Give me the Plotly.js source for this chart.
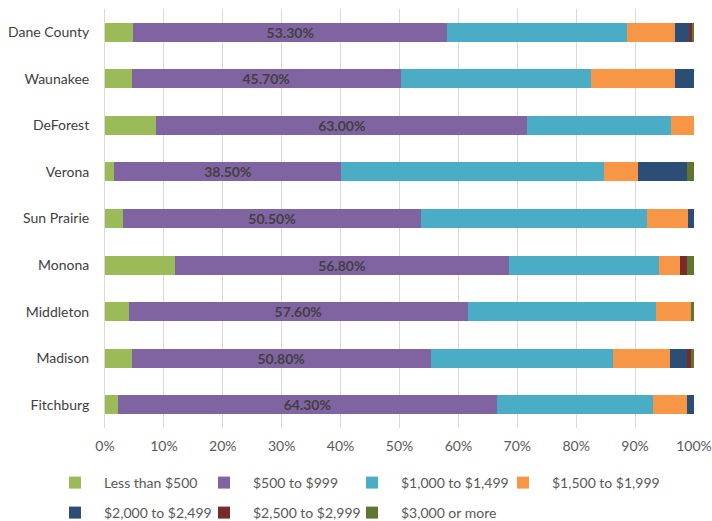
<!DOCTYPE html>
<html><head><meta charset="utf-8">
<script src="https://cdn.plot.ly/plotly-3.0.1.min.js"></script>
<style>body{margin:0;background:#fff}#chart{width:712px;height:521px}</style>
</head><body><div id="chart"></div>
<script>
const categories = ["Dane County","Waunakee","DeForest","Verona","Sun Prairie","Monona","Middleton","Madison","Fitchburg"];
const seriesNames = ["Less than $500","$500 to $999","$1,000 to $1,499","$1,500 to $1,999","$2,000 to $2,499","$2,500 to $2,999","$3,000 or more"];
const lessThan500   = [4.8, 4.5, 8.7, 1.6, 3.1, 11.8, 4.0, 4.5, 2.2];
const s500to999     = [53.3, 45.7, 63.0, 38.5, 50.5, 56.8, 57.6, 50.8, 64.3];
const s1000to1499   = [30.5, 32.3, 24.4, 44.6, 38.5, 25.5, 31.9, 30.9, 26.5];
const s1500to1999   = [8.2, 14.3, 3.9, 5.8, 6.9, 3.6, 6.0, 9.7, 5.8];
const s2000to2499   = [2.4, 3.2, 0, 8.3, 1.0, 0, 0, 2.9, 1.2];
const s2500to2999   = [0.5, 0, 0, 0, 0, 1.1, 0, 0.7, 0];
const s3000plus     = [0.3, 0, 0, 1.2, 0, 1.2, 0.5, 0.5, 0];
const seriesValues = [lessThan500, s500to999, s1000to1499, s1500to1999, s2000to2499, s2500to2999, s3000plus];
const colors = ["#9BBB59","#8064A2","#4BACC6","#F79646","#2C4D75","#772C2A","#5F7530"];

// legend placement (pixels in the 712x521 page): left edge of each legend entry and its row
const legendLeft = [46, 195, 343, 494, 46, 195, 343];
const legendRowTop = [467, 467, 467, 467, 497, 497, 497];

const FONT = 'Lato, "Open Sans", sans-serif';
const W = 712, H = 521;
const legendKey = i => i === 0 ? 'legend' : 'legend' + (i + 1);

const traces = seriesValues.map((vals, i) => {
  const t = {
    type: 'bar', orientation: 'h', name: seriesNames[i],
    y: categories, x: vals,
    marker: {color: colors[i], line: {width: 0}},
    legend: legendKey(i),
    hoverinfo: 'skip'
  };
  if (i === 1) {
    t.texttemplate = '%{x:.2f}%';
    t.textposition = 'inside';
    t.insidetextanchor = 'middle';
    t.textangle = 0;
    t.constraintext = 'none';
    t.textfont = {family: FONT, size: 14, color: '#404040', weight: 'bold'};
  } else {
    t.textposition = 'none';
  }
  return t;
});

const layout = {
  width: W, height: H,
  margin: {l: 105, r: 18, t: 9, b: 93},
  barmode: 'stack', bargap: 0.59,
  paper_bgcolor: '#fff', plot_bgcolor: '#fff',
  font: {family: FONT, size: 14, color: '#595959'},
  xaxis: {range: [0, 100], dtick: 10, ticksuffix: '%', showgrid: true, gridcolor: '#D9D9D9', gridwidth: 1,
          zeroline: false, showline: false, tickfont: {size: 14, color: '#595959'}, ticks: '', ticklen: 0,
          ticklabelstandoff: 8, fixedrange: true, automargin: false},
  yaxis: {autorange: 'reversed', showline: true, linecolor: '#D9D9D9', linewidth: 1, ticks: '',
          tickfont: {size: 14, color: '#404040'}, ticklabelstandoff: 12, fixedrange: true, automargin: false},
  showlegend: true
};
seriesNames.forEach((n, i) => {
  layout[legendKey(i)] = {
    orientation: 'h', xref: 'container', yref: 'container', xanchor: 'left', yanchor: 'top',
    x: legendLeft[i] / W, y: 1 - legendRowTop[i] / H,
    itemwidth: 48, font: {family: FONT, size: 14, color: '#595959'},
    bgcolor: 'rgba(0,0,0,0)', borderwidth: 0
  };
});
Plotly.newPlot('chart', traces, layout, {displayModeBar: false, staticPlot: true});
</script></body></html>
